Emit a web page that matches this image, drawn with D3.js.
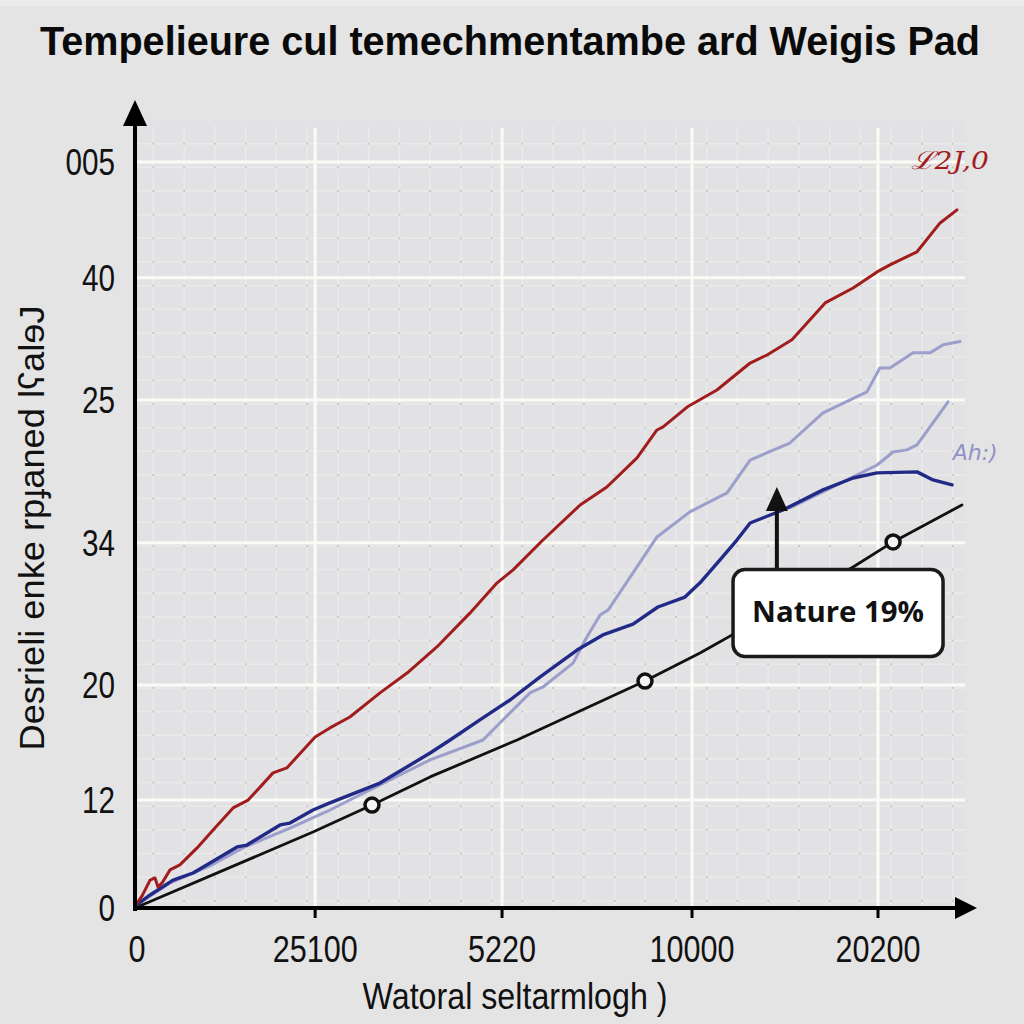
<!DOCTYPE html>
<html><head><meta charset="utf-8">
<script src="https://cdn.jsdelivr.net/npm/d3@7"></script>
<style>
html,body{margin:0;padding:0;background:#e4e4e4;}
svg{display:block;}
</style></head>
<body>
<svg id="chart" width="1024" height="1024"></svg>
<script>
// ---- data ----
const titleText = "Tempelieure cul temechmentambe ard Weigis Pad";
const xTitle = "Watoral seltarmlogh )";
const yTitle = "Desrieli enke rpɟaned lʕalɘJ";

const xTickPos = [0, 5.86, 11.94, 18.12, 24.17];
const xTickLabels = ["0", "25100", "5220", "10000", "20200"];
const yTickPos = [0, 4.56, 9.42, 15.43, 21.47, 26.63, 31.53];
const yTickLabels = ["0", "12", "20", "34", "25", "40", "005"];

const redX = [0,0.23,0.49,0.65,0.75,0.88,1.14,1.46,2.02,2.54,3.19,3.68,4.49,4.94,5.86,6.34,6.99,7.97,8.85,9.82,10.90,11.78,12.30,13.27,14.48,15.35,16.33,16.98,17.18,17.96,18.93,20.01,20.56,21.37,22.45,23.36,24.14,24.56,25.44,26.19,26.74];
const redY = [0.08,0.51,1.18,1.27,0.89,1.06,1.61,1.82,2.54,3.30,4.23,4.56,5.71,5.92,7.23,7.61,8.07,9.09,9.93,11.03,12.47,13.74,14.29,15.55,17.03,17.79,19.02,20.20,20.33,21.17,21.89,23.03,23.37,24.01,25.57,26.20,26.88,27.18,27.73,28.95,29.50];

const blueX = [0,0.49,1.24,1.89,2.44,3.32,3.64,4.72,5.04,5.79,6.34,7.97,9.60,10.25,11.22,12.20,13.17,14.38,15.22,16.20,17.01,17.89,18.38,19.03,19.58,20.01,21.08,22.38,23.36,24.14,25.44,25.96,26.58];
const blueY = [0.08,0.55,1.18,1.48,1.90,2.58,2.66,3.51,3.59,4.14,4.44,5.28,6.55,7.10,7.95,8.79,9.76,10.90,11.54,12.00,12.72,13.14,13.74,14.71,15.55,16.27,16.82,17.67,18.17,18.39,18.43,18.09,17.88];

const lavAX = [0,1.14,2.44,3.51,5.04,6.34,7.97,9.60,11.32,11.87,12.85,13.27,14.25,14.70,15.13,15.39,16.20,16.98,18.05,19.26,20.01,21.30,22.38,23.81,24.23,24.56,25.31,25.86,26.29,26.84];
const lavAY = [0.08,1.06,1.78,2.54,3.38,4.14,5.20,6.26,7.10,7.82,9.09,9.34,10.35,11.45,12.38,12.59,14.16,15.68,16.74,17.54,18.93,19.65,20.92,21.81,22.82,22.82,23.46,23.46,23.80,23.94];

const lavBX = [21.30,22.38,23.36,24.14,24.66,25.11,25.44,26.45];
const lavBY = [16.91,17.58,18.22,18.72,19.27,19.36,19.57,21.39];

const blackX = [0,5.79,7.71,9.60,12.43,16.59,18.38,23.36,24.66,26.90];
const blackY = [0,3.21,4.35,5.54,7.10,9.59,10.78,14.41,15.47,17.03];
const markerIdx = [2,5,8];

const redLabel = {text:"ℒ2J,0", x:26.51, y:31.61};
const lavLabel = {text:"Ah:)", x:27.33, y:19.27};
const note = {text:"Nature 19%", x:22.87, y:12.47, arrowX:20.88, arrowTip:17.79};

// ---- layout ----
const svg = d3.select("#chart");
const X0 = 135, X1 = 965, Y0 = 908, Y1 = 120;
const x = d3.scaleLinear().domain([0,27]).range([X0,X1]);
const y = d3.scaleLinear().domain([0,33.3]).range([Y0,Y1]);
const FONT = "'Liberation Sans',Arial,sans-serif";

svg.append("rect").attr("width",1024).attr("height",1024).attr("fill","#e4e4e4");
svg.append("rect").attr("width",1024).attr("height",6).attr("fill","#ececec");
svg.append("rect").attr("x",X0).attr("y",Y1).attr("width",X1-X0).attr("height",Y0-Y1).attr("fill","#e2e2e4");

// minor grid
const gMinor = svg.append("g");
d3.range(0.6, 27, 1).forEach(v=>{
  gMinor.append("line").attr("x1",x(v)).attr("x2",x(v)).attr("y1",Y1+6).attr("y2",Y0)
    .attr("stroke","#eaeaea").attr("stroke-width",1.5);
});
d3.range(0.3, 33.3, 1.0).forEach(v=>{
  gMinor.append("line").attr("x1",X0).attr("x2",X1).attr("y1",y(v)).attr("y2",y(v))
    .attr("stroke","#eaeaea").attr("stroke-width",1.5);
});
d3.range(0.6, 27, 1).forEach(a=>{
  d3.range(0.3, 33.3, 1.0).forEach(b=>{
    gMinor.append("rect").attr("x",x(a)-1).attr("y",y(b)-1).attr("width",2).attr("height",2).attr("fill","#c8c8cc");
  });
});

// major grid
const gMajor = svg.append("g");
xTickPos.slice(1).forEach(v=>{
  gMajor.append("line").attr("x1",x(v)).attr("x2",x(v)).attr("y1",Y1+8).attr("y2",Y0)
    .attr("stroke","#fbfbf6").attr("stroke-width",3);
});
yTickPos.slice(1).forEach(v=>{
  gMajor.append("line").attr("x1",X0).attr("x2",X1).attr("y1",y(v)).attr("y2",y(v))
    .attr("stroke","#fbfbf6").attr("stroke-width",3);
});

// lines
const line = d3.line().x(d=>x(d[0])).y(d=>y(d[1]));
const zip = (a,b)=>a.map((v,i)=>[v,b[i]]);
function drawLine(xs,ys,color,w){
  svg.append("path").datum(zip(xs,ys)).attr("d",line).attr("fill","none")
    .attr("stroke",color).attr("stroke-width",w).attr("stroke-linejoin","round").attr("stroke-linecap","round");
}
drawLine(lavAX,lavAY,"#9c9ecb",3);
drawLine(lavBX,lavBY,"#9c9ecb",3);
drawLine(blackX,blackY,"#111111",2.8);
drawLine(blueX,blueY,"#222a88",3.4);
drawLine(redX,redY,"#a11d1d",3);

// markers
svg.append("g").selectAll("circle").data(markerIdx).join("circle")
  .attr("cx",i=>x(blackX[i])).attr("cy",i=>y(blackY[i])).attr("r",7)
  .attr("fill","#f4f4f4").attr("stroke","#111").attr("stroke-width",3.5);

// axes
svg.append("line").attr("x1",X0).attr("x2",X0).attr("y1",Y0+3).attr("y2",112).attr("stroke","#000").attr("stroke-width",4);
svg.append("path").attr("d",`M${X0},100 L${X0-12},126 L${X0+12},126 Z`).attr("fill","#000");
svg.append("line").attr("x1",X0-2).attr("x2",962).attr("y1",Y0).attr("y2",Y0).attr("stroke","#000").attr("stroke-width",4);
svg.append("path").attr("d",`M977,${Y0} L955,${Y0-11} L955,${Y0+11} Z`).attr("fill","#000");

// x ticks
const gx = svg.append("g");
xTickPos.forEach((v,i)=>{
  if(i>0) gx.append("line").attr("x1",x(v)).attr("x2",x(v)).attr("y1",Y0).attr("y2",Y0+10).attr("stroke","#000").attr("stroke-width",3);
  gx.append("text").attr("x",x(v)+(i===0?2:0)).attr("y",962).attr("text-anchor","middle")
    .attr("font-family",FONT).attr("font-size",37).attr("fill","#111")
    .attr("textLength",xTickLabels[i].length*17).attr("lengthAdjust","spacingAndGlyphs").text(xTickLabels[i]);
});
// y ticks
const gy = svg.append("g");
yTickPos.forEach((v,i)=>{
  gy.append("text").attr("x",115).attr("y",y(v)+13).attr("text-anchor","end")
    .attr("font-family",FONT).attr("font-size",36).attr("fill","#111")
    .attr("textLength",yTickLabels[i].length*16.5).attr("lengthAdjust","spacingAndGlyphs").text(yTickLabels[i]);
});

// titles
svg.append("text").attr("x",510).attr("y",55).attr("text-anchor","middle")
  .attr("font-family",FONT).attr("font-weight","bold").attr("font-size",41)
  .attr("textLength",940).attr("lengthAdjust","spacingAndGlyphs").attr("fill","#0a0a0a").text(titleText);
svg.append("text").attr("x",515).attr("y",1009).attr("text-anchor","middle")
  .attr("font-family",FONT).attr("font-size",36).attr("textLength",305).attr("lengthAdjust","spacingAndGlyphs")
  .attr("fill","#111").text(xTitle);
svg.append("text").attr("transform","translate(44,528) rotate(-90)").attr("text-anchor","middle")
  .attr("font-family",FONT).attr("font-size",35).attr("textLength",445).attr("lengthAdjust","spacingAndGlyphs")
  .attr("fill","#111").text(yTitle);

// series labels
svg.append("text").attr("x",x(redLabel.x)).attr("y",y(redLabel.y)+9).attr("text-anchor","middle")
  .attr("font-family","'DejaVu Serif',serif").attr("font-style","italic").attr("font-size",25)
  .attr("textLength",78).attr("lengthAdjust","spacingAndGlyphs").attr("fill","#a11d1d").text(redLabel.text);
svg.append("text").attr("x",x(lavLabel.x)).attr("y",y(lavLabel.y)+8).attr("text-anchor","middle")
  .attr("font-family","'DejaVu Sans',sans-serif").attr("font-style","italic").attr("font-size",22).attr("fill","#8f92c4").text(lavLabel.text);

// annotation
const bw=210, bh=87;
const bx = x(note.x), by = y(note.y);
svg.append("line").attr("x1",x(note.arrowX)).attr("x2",x(note.arrowX)).attr("y1",by-bh/2).attr("y2",y(note.arrowTip)+18)
  .attr("stroke","#111").attr("stroke-width",4);
svg.append("path").attr("d",`M${x(note.arrowX)},${y(note.arrowTip)} L${x(note.arrowX)-11},${y(note.arrowTip)+24} L${x(note.arrowX)+11},${y(note.arrowTip)+24} Z`).attr("fill","#111");
svg.append("rect").attr("x",bx-bw/2).attr("y",by-bh/2).attr("width",bw).attr("height",bh).attr("rx",12)
  .attr("fill","#ffffff").attr("stroke","#1a1a1a").attr("stroke-width",3.5);
svg.append("text").attr("x",bx).attr("y",by+9).attr("text-anchor","middle")
  .attr("font-family","'Open Sans','DejaVu Sans',sans-serif").attr("font-weight","bold").attr("font-size",28)
  .attr("textLength",172).attr("lengthAdjust","spacingAndGlyphs")
  .attr("fill","#111").text(note.text);
</script>
</body></html>
